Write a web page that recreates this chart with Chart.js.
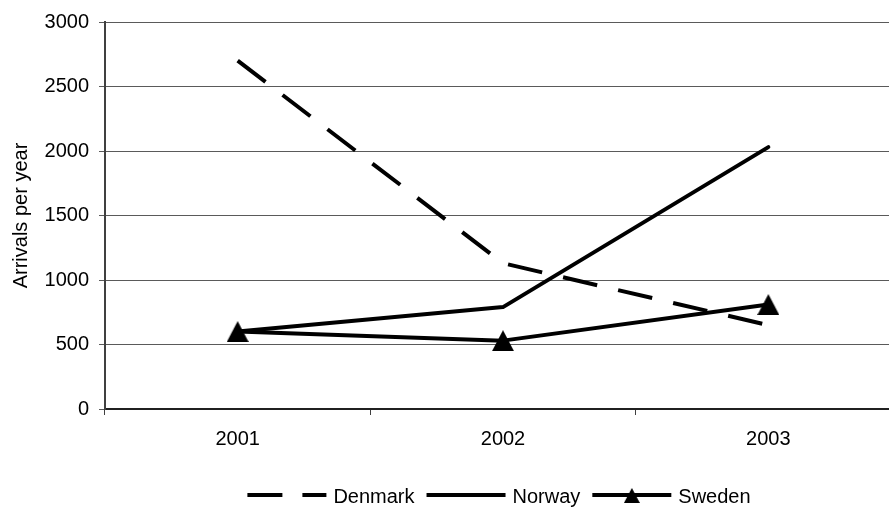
<!DOCTYPE html>
<html>
<head>
<meta charset="utf-8">
<script src="https://cdn.jsdelivr.net/npm/chart.js@4/dist/chart.umd.min.js"></script>
<style>
  html, body { margin: 0; padding: 0; background: #fff; overflow: hidden; }
  #wrap { position: relative; width: 889px; height: 510px; }
  canvas { display: block; }
</style>
</head>
<body>
<div id="wrap"><canvas id="chart"></canvas></div>
<script>
// Yearly arrivals per country
const years = ['2001', '2002', '2003'];
const denmark = [2700, 1130, 650];
const norway = [600, 790, 2030];
const sweden = [600, 530, 810];
const yTicks = [0, 500, 1000, 1500, 2000, 2500, 3000];

const FONT = 'Liberation Sans, Arial, Helvetica, sans-serif';
const FONT_SIZE = 20;
// The plot area runs a little past the right edge of the canvas
const PLOT_RIGHT = 901;

// Filled triangle marker whose bounding box is centred on the point
function triangleMarker(w, h) {
  const c = document.createElement('canvas');
  c.width = w; c.height = h;
  const g = c.getContext('2d');
  g.fillStyle = '#000';
  g.beginPath();
  g.moveTo(w / 2, 0);
  g.lineTo(w, h);
  g.lineTo(0, h);
  g.closePath();
  g.fill();
  return c;
}
const bigTriangle = triangleMarker(22, 21);
const smallTriangle = triangleMarker(16, 15);

// Stretch the plot area (and the x scale) past the canvas edge
const widePlot = {
  id: 'widePlot',
  afterLayout(chart) {
    const area = chart.chartArea;
    area.right = PLOT_RIGHT;
    area.width = PLOT_RIGHT - area.left;
    const x = chart.scales.x;
    x.right = PLOT_RIGHT;
    x.width = PLOT_RIGHT - x.left;
    x.configure();
  }
};

// Legend drawn below the plot: line sample (with dash / marker) followed by the label
const lineLegend = {
  id: 'lineLegend',
  afterDraw(chart) {
    const ctx = chart.ctx;
    const area = chart.chartArea;
    const sample = 79, gapText = 7, gapItem = 12;
    ctx.save();
    ctx.font = FONT_SIZE + 'px ' + FONT;
    const items = chart.data.datasets.map(ds => ({ ds, w: ctx.measureText(ds.label).width }));
    const total = items.reduce((s, it) => s + sample + gapText + it.w, 0) + gapItem * (items.length - 1);
    let x = (area.left + area.right) / 2 - total / 2 - 4;
    const y = 495;
    items.forEach(({ ds, w }) => {
      ctx.beginPath();
      ctx.setLineDash(ds.borderDash ? [35, 20] : []);
      ctx.lineWidth = ds.borderWidth;
      ctx.lineCap = 'butt';
      ctx.strokeStyle = ds.borderColor;
      ctx.moveTo(x, y);
      ctx.lineTo(x + sample, y);
      ctx.stroke();
      ctx.setLineDash([]);
      if (ds.pointStyle instanceof HTMLCanvasElement) {
        ctx.drawImage(smallTriangle, x + sample / 2 - 8, y - 7);
      }
      ctx.fillStyle = '#000';
      ctx.textBaseline = 'middle';
      ctx.textAlign = 'left';
      ctx.fillText(ds.label, x + sample + gapText, y + 2);
      x += sample + gapText + w + gapItem;
    });
    ctx.restore();
  }
};

new Chart(document.getElementById('chart'), {
  type: 'line',
  data: {
    labels: years,
    datasets: [
      {
        label: 'Denmark', data: denmark,
        borderColor: '#000', borderWidth: 4, borderDash: [35, 21.5],
        borderCapStyle: 'butt', pointRadius: 0, tension: 0
      },
      {
        label: 'Norway', data: norway,
        borderColor: '#000', borderWidth: 4,
        borderCapStyle: 'round', borderJoinStyle: 'round', pointRadius: 0, tension: 0
      },
      {
        label: 'Sweden', data: sweden,
        borderColor: '#000', borderWidth: 4,
        borderCapStyle: 'round', borderJoinStyle: 'round',
        pointStyle: bigTriangle, pointRadius: 11, tension: 0
      }
    ]
  },
  options: {
    responsive: true,
    maintainAspectRatio: false,
    animation: false,
    layout: { padding: { top: 21, right: 0, bottom: 41, left: 0 } },
    plugins: { legend: { display: false }, tooltip: { enabled: false } },
    scales: {
      x: {
        offset: true,
        grid: { drawOnChartArea: false, drawTicks: true, tickLength: 6, offset: true, color: '#404040' },
        border: { color: '#202020', width: 2 },
        ticks: { color: '#000', font: { family: FONT, size: FONT_SIZE }, padding: 12, maxRotation: 0 },
        afterFit(scale) { scale.height = 60; }
      },
      y: {
        min: 0, max: 3000,
        afterBuildTicks(scale) { scale.ticks = yTicks.map(v => ({ value: v })); },
        grid: { color: '#5a5a5a', lineWidth: 1, tickLength: 6 },
        border: { color: '#404040', width: 2 },
        ticks: {
          color: '#000', font: { family: FONT, size: FONT_SIZE }, padding: 10,
          callback: v => String(v)
        },
        title: {
          display: true, text: 'Arrivals per year', color: '#000',
          font: { family: FONT, size: FONT_SIZE }, padding: { top: 9, bottom: 0 }
        },
        afterFit(scale) { scale.width = 105; }
      }
    }
  },
  plugins: [widePlot, lineLegend]
});
</script>
</body>
</html>
